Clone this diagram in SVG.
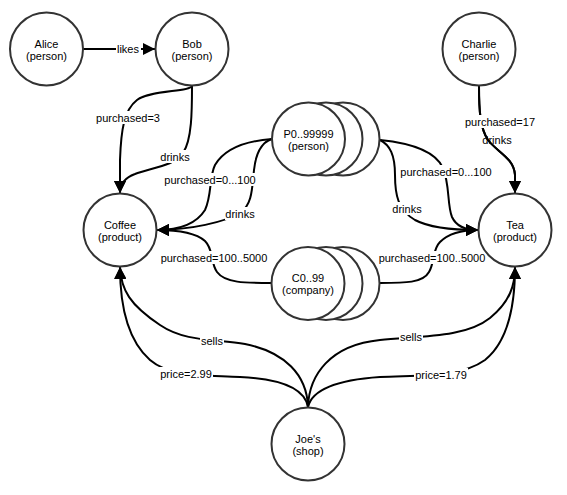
<svg xmlns="http://www.w3.org/2000/svg" width="567" height="495" viewBox="0 0 567 495">
<defs>
<style>
.node circle{fill:#fff;stroke:#333;stroke-width:2}
.node text, .lbl text{font-family:"Liberation Sans",Arial,sans-serif;font-size:11px;fill:#000;text-anchor:middle}
.edge{fill:none;stroke:#000;stroke-width:2;marker-end:url(#arr)}
.lbl rect{fill:#fff}
</style>
<marker id="arr" viewBox="0 0 12 12" refX="12" refY="6" markerWidth="12" markerHeight="12" markerUnits="userSpaceOnUse" orient="auto">
<path d="M0,0 L12,6 L0,12 z" fill="#000"/>
</marker>
</defs>
<rect width="567" height="495" fill="#fff"/>

<g id="connectors">
<path class="edge" d="M83,49 L155,49"/>
<path class="edge" d="M192,86 C190,92 150,90 137,100 C124,110 121,130 120,160 L120,193"/>
<path class="edge" d="M192,86 C192,110 192,140 183,153 C175,166 150,168 135,174 C124,178 120,185 120,193"/>
<path class="edge" d="M272,139 C245,141 225,148 215,165 C209,177 212,195 205,210 C195,226 175,230 157,230"/>
<path class="edge" d="M272,139 C262,142 256,152 254,170 C252,190 252,205 240,213 C225,222 190,230 157,230"/>
<path class="edge" d="M271,283 C245,283 225,283 217,272 C210,262 214,250 205,241 C195,232 175,230 157,230"/>
<path class="edge" d="M380,283 C405,283 423,283 429,272 C435,262 432,250 440,242 C450,232 465,230 478,230"/>
<path class="edge" d="M380,140 C410,143 435,150 443,168 C450,185 447,205 452,217 C457,228 468,230 478,230"/>
<path class="edge" d="M380,140 C390,145 395,155 395,175 C395,195 398,210 415,220 C430,228 455,230 478,230"/>
<path class="edge" d="M479,86 C479,110 480,128 488,140 C497,152 514,158 515,175 L515,193"/>
<path class="edge" d="M479,86 C479,110 480,128 488,140 C497,152 514,158 515,175 L515,193"/>
<path class="edge" d="M308,407 C307,375 285,352 245,344 C215,339 185,342 160,325 C130,305 121,290 120,267"/>
<path class="edge" d="M308,407 C305,390 285,379 240,377 C200,375 170,377 150,360 C125,338 120,300 120,267"/>
<path class="edge" d="M308,407 C309,375 330,345 380,340 C420,336 465,338 490,318 C510,302 515,285 515,267"/>
<path class="edge" d="M308,407 C312,390 335,380 380,377 C420,375 460,378 485,360 C510,340 515,300 515,267"/>
</g>

<g id="labels">
<g class="lbl"><rect x="116" y="42" width="25" height="13"/><text x="128" y="53">likes</text></g>
<g class="lbl"><rect x="95" y="111" width="66" height="13"/><text x="128" y="122">purchased=3</text></g>
<g class="lbl"><rect x="160" y="150" width="31" height="13"/><text x="175" y="161">drinks</text></g>
<g class="lbl"><rect x="164" y="173" width="93" height="13"/><text x="210" y="184">purchased=0...100</text></g>
<g class="lbl"><rect x="225" y="207" width="31" height="13"/><text x="240" y="218">drinks</text></g>
<g class="lbl"><rect x="160" y="251" width="108" height="13"/><text x="214" y="262">purchased=100..5000</text></g>
<g class="lbl"><rect x="378" y="251" width="108" height="13"/><text x="432" y="262">purchased=100..5000</text></g>
<g class="lbl"><rect x="400" y="165" width="93" height="13"/><text x="446" y="176">purchased=0...100</text></g>
<g class="lbl"><rect x="392" y="202" width="31" height="13"/><text x="407" y="213">drinks</text></g>
<g class="lbl"><rect x="465" y="115" width="71" height="13"/><text x="500" y="126">purchased=17</text></g>
<g class="lbl"><text x="497" y="144">drinks</text></g>
<g class="lbl"><rect x="200" y="334" width="24" height="13"/><text x="212" y="345">sells</text></g>
<g class="lbl"><rect x="159" y="367" width="54" height="13"/><text x="186" y="378">price=2.99</text></g>
<g class="lbl"><rect x="399" y="330" width="24" height="13"/><text x="411" y="341">sells</text></g>
<g class="lbl"><rect x="414" y="368" width="54" height="13"/><text x="441" y="379">price=1.79</text></g>
</g>

<g id="alice" class="node"><circle cx="46.5" cy="49" r="36.5"/><text x="46.5" y="47.5">Alice</text><text x="46.5" y="59.5">(person)</text></g>
<g id="bob" class="node"><circle cx="192" cy="49" r="36.5"/><text x="192" y="47.5">Bob</text><text x="192" y="59.5">(person)</text></g>
<g id="charlie" class="node"><circle cx="479" cy="49" r="36.5"/><text x="479" y="47.5">Charlie</text><text x="479" y="59.5">(person)</text></g>
<g id="coffee" class="node"><circle cx="120" cy="230" r="36.5"/><text x="120" y="228.5">Coffee</text><text x="120" y="240.5">(product)</text></g>
<g id="tea" class="node"><circle cx="515" cy="230" r="36.5"/><text x="515" y="228.5">Tea</text><text x="515" y="240.5">(product)</text></g>
<g id="people" class="node"><circle cx="343" cy="139" r="36.5"/><circle cx="326" cy="139" r="36.5"/><circle cx="308.5" cy="139" r="36.5"/><text x="308.5" y="137.5">P0..99999</text><text x="308.5" y="149.5">(person)</text></g>
<g id="companies" class="node"><circle cx="343" cy="283.5" r="36.5"/><circle cx="326" cy="283.5" r="36.5"/><circle cx="308" cy="283.5" r="36.5"/><text x="308" y="282">C0..99</text><text x="308" y="294">(company)</text></g>
<g id="joes" class="node"><circle cx="308" cy="444" r="36.5"/><text x="308" y="442.5">Joe's</text><text x="308" y="454.5">(shop)</text></g>
</svg>
